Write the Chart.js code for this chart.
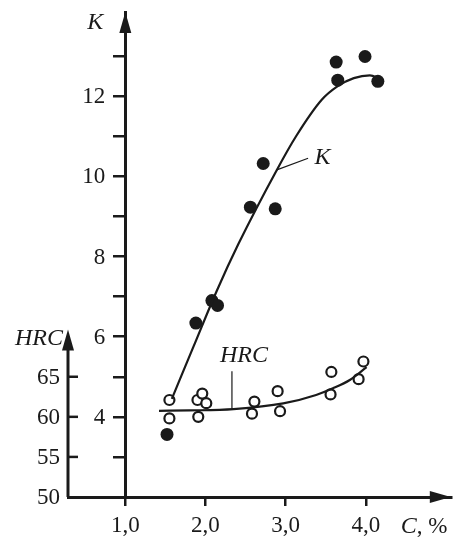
<!DOCTYPE html>
<html>
<head>
<meta charset="utf-8">
<script src="https://cdn.jsdelivr.net/npm/chart.js@4/dist/chart.umd.min.js"></script>
<style>
    html, body { margin: 0; padding: 0; background: #fff; }
</style>
</head>
<body>
<canvas id="chart" width="458" height="542"></canvas>
<script>
// measured points, K (filled dots)
const kDotC = [1.52, 1.88, 2.08, 2.15, 2.56, 2.72, 2.87, 3.63, 3.65, 3.99, 4.15];
const kDotV = [3.56, 6.34, 6.90, 6.78, 9.23, 10.32, 9.19, 12.85, 12.40, 12.99, 12.37];

// measured points, HRC (open dots)
const hrcDotC = [1.55, 1.55, 1.90, 1.96, 2.01, 1.91, 2.58, 2.61, 2.90, 2.93, 3.56, 3.57, 3.91, 3.97];
const hrcDotV = [62.1, 59.8, 62.1, 62.9, 61.7, 60.0, 60.4, 61.9, 63.2, 60.7, 62.8, 65.6, 64.7, 66.9];

// fitted curves
const kCurveC = [1.58, 1.85, 2.14, 2.41, 2.89, 3.13, 3.45, 3.65, 3.85, 4.05, 4.18];
const kCurveV = [4.45, 5.75, 7.14, 8.31, 10.16, 11.0, 11.91, 12.25, 12.45, 12.52, 12.43];
const hrcCurveC = [1.42, 1.80, 2.35, 2.97, 3.38, 3.59, 3.80, 4.01];
const hrcCurveV = [60.75, 60.8, 60.97, 61.67, 62.73, 63.56, 64.6, 66.2];

// axes
const xTicks = [1, 2, 3, 4];
const xTickLabels = ["1,0", "2,0", "3,0", "4,0"];
const kTicks = [3, 4, 5, 6, 7, 8, 9, 10, 11, 12, 13];
const kTickLabels = ["", "4", "", "6", "", "8", "", "10", "", "12", ""];
const hrcTicks = [50, 55, 60, 65];
const hrcTickLabels = ["50", "55", "60", "65"];

const xMin = 0.285, xMax = 5.06;
const kMin = 2, kMax = 14.1;
const hrcMin = 50, hrcMax = hrcMin + (kMax - kMin) * 5;
const hrcArrowTop = 70.9;

const INK = "#1a1a1a";
const FONT = "Liberation Serif";

function pts(xs, ys){
    return xs.map((x, i) => ({x: x, y: ys[i]}));
}

function arrowHead(ctx, x, y, dir){
    ctx.beginPath();
    if(dir == "up"){
        ctx.moveTo(x, y);
        ctx.lineTo(x - 6, y + 21);
        ctx.lineTo(x + 6, y + 21);
    } else {
        ctx.moveTo(x, y);
        ctx.lineTo(x - 21, y - 6);
        ctx.lineTo(x - 21, y + 6);
    }
    ctx.closePath();
    ctx.fill();
}

const extras = {
    id: "extras",
    afterDraw(chart){
        const ctx = chart.ctx;
        const xs = chart.scales.x, ks = chart.scales.y, hs = chart.scales.y2;
        const area = chart.chartArea;
        const kx = xs.getPixelForValue(1);
        ctx.save();
        ctx.fillStyle = INK;
        ctx.strokeStyle = INK;

        // HRC axis: short line with arrow and inward ticks
        const hx = area.left;
        ctx.lineWidth = 3;
        ctx.beginPath();
        ctx.moveTo(hx, hs.getPixelForValue(hrcMin));
        ctx.lineTo(hx, hs.getPixelForValue(hrcArrowTop) + 10);
        ctx.stroke();
        arrowHead(ctx, hx, hs.getPixelForValue(hrcArrowTop), "up");
        ctx.lineWidth = 2.5;
        hrcTicks.forEach(v => {
            if(v == hrcMin) return;
            const y = hs.getPixelForValue(v);
            ctx.beginPath();
            ctx.moveTo(hx, y);
            ctx.lineTo(hx + 10, y);
            ctx.stroke();
        });

        // tick labels of both vertical axes
        ctx.font = "23px " + FONT;
        ctx.textAlign = "right";
        ctx.textBaseline = "middle";
        kTicks.forEach((v, i) => ctx.fillText(kTickLabels[i], kx - 20, ks.getPixelForValue(v) + 1));
        hrcTicks.forEach((v, i) => ctx.fillText(hrcTickLabels[i], hx - 8, hs.getPixelForValue(v) + 1));

        // arrows of K and C axes
        arrowHead(ctx, kx, area.top, "up");
        arrowHead(ctx, area.right, xs.top, "right");

        // axis titles
        ctx.font = "italic 24px " + FONT;
        ctx.fillText("K", kx - 22, area.top + 11);
        ctx.fillText("HRC", hx - 5, hs.getPixelForValue(hrcArrowTop) + 9);
        ctx.textAlign = "left";
        const cx = xs.getPixelForValue(4) + 35, cy = 527;
        ctx.fillText("C", cx, cy);
        const cw = ctx.measureText("C").width;
        ctx.font = "23px " + FONT;
        ctx.fillText(", %", cx + cw, cy);

        // curve labels with leader lines
        ctx.lineWidth = 1.2;
        ctx.beginPath();
        ctx.moveTo(xs.getPixelForValue(2.89), ks.getPixelForValue(10.16));
        ctx.lineTo(xs.getPixelForValue(3.28), ks.getPixelForValue(10.45));
        ctx.moveTo(xs.getPixelForValue(2.33), hs.getPixelForValue(61.0));
        ctx.lineTo(xs.getPixelForValue(2.33), hs.getPixelForValue(65.7));
        ctx.stroke();
        ctx.font = "italic 24px " + FONT;
        ctx.fillText("K", xs.getPixelForValue(3.36), ks.getPixelForValue(10.46));
        ctx.fillText("HRC", xs.getPixelForValue(2.18), hs.getPixelForValue(67.6));
        ctx.restore();
    }
};

const tickFont = {family: FONT, size: 23};

const chart = new Chart(document.getElementById("chart").getContext("2d"), {
    type: "scatter",
    data: {
        datasets: [
            {
                label: "K curve",
                type: "line",
                data: pts(kCurveC, kCurveV),
                yAxisID: "y",
                borderColor: INK,
                borderWidth: 2.2,
                pointRadius: 0,
                cubicInterpolationMode: "monotone",
                fill: false
            },
            {
                label: "HRC curve",
                type: "line",
                data: pts(hrcCurveC, hrcCurveV),
                yAxisID: "y2",
                borderColor: INK,
                borderWidth: 2.2,
                pointRadius: 0,
                cubicInterpolationMode: "monotone",
                fill: false
            },
            {
                label: "K",
                data: pts(kDotC, kDotV),
                yAxisID: "y",
                pointRadius: 6.5,
                backgroundColor: INK,
                borderWidth: 0
            },
            {
                label: "HRC",
                data: pts(hrcDotC, hrcDotV),
                yAxisID: "y2",
                pointRadius: 5,
                backgroundColor: "#fff",
                borderColor: INK,
                borderWidth: 2.2
            }
        ]
    },
    options: {
        responsive: false,
        animation: false,
        devicePixelRatio: 1,
        layout: {padding: {top: 12, right: 1, left: 0, bottom: 0}},
        plugins: {legend: {display: false}, tooltip: {enabled: false}},
        scales: {
            x: {
                type: "linear",
                position: "bottom",
                min: xMin,
                max: xMax,
                afterBuildTicks: s => { s.ticks = xTicks.map(v => ({value: v})); },
                afterFit: s => { s.height = 45; },
                ticks: {
                    callback: v => xTickLabels[xTicks.indexOf(v)],
                    font: tickFont,
                    color: INK,
                    padding: 6,
                    autoSkip: false,
                    maxRotation: 0
                },
                grid: {drawOnChartArea: false, drawTicks: true, tickLength: 9, lineWidth: 2.5, color: INK},
                border: {display: true, color: INK, width: 3}
            },
            y: {
                type: "linear",
                position: {x: 1},
                min: kMin,
                max: kMax,
                afterBuildTicks: s => { s.ticks = kTicks.map(v => ({value: v})); },
                ticks: {display: false},
                grid: {drawOnChartArea: false, drawTicks: true, tickLength: 11, lineWidth: 2.5, color: INK},
                border: {display: true, color: INK, width: 3}
            },
            y2: {
                type: "linear",
                position: "left",
                min: hrcMin,
                max: hrcMax,
                afterBuildTicks: s => { s.ticks = hrcTicks.map(v => ({value: v})); },
                afterFit: s => { s.width = 68; },
                ticks: {display: false},
                grid: {display: false, drawTicks: false},
                border: {display: false}
            }
        }
    },
    plugins: [extras]
});
</script>
</body>
</html>
